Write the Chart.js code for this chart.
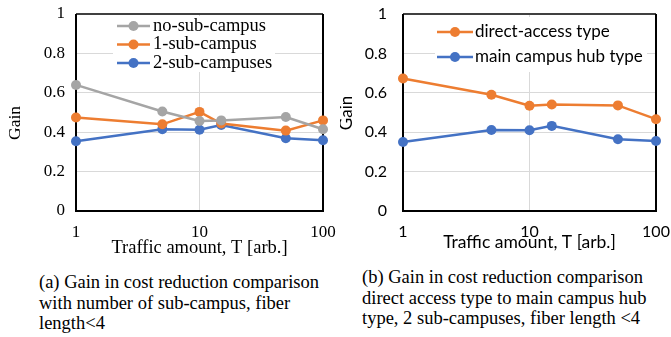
<!DOCTYPE html>
<html>
<head>
<meta charset="utf-8">
<script src="https://cdn.jsdelivr.net/npm/chart.js@4/dist/chart.umd.min.js"></script>
<style>
  body { margin: 0; background: #fff; width: 671px; height: 337px; position: relative; overflow: hidden; }
  .box { position: absolute; top: 0; height: 262px; }
  .cap { position: absolute; font-family: "Liberation Serif", "Times New Roman", serif; font-size: 18.5px; line-height: 20.5px; color: #000; white-space: nowrap; }
</style>
</head>
<body>
<div class="box" style="left:0;width:339px"><canvas id="chart-a"></canvas></div>
<div class="box" style="left:340px;width:331px"><canvas id="chart-b"></canvas></div>
<div class="cap" style="left:39px;top:272px">(a) Gain in cost reduction comparison<br>with number of sub-campus, fiber<br>length&lt;4</div>
<div class="cap" style="left:362px;top:267px">(b) Gain in cost reduction comparison<br>direct access type to main campus hub<br>type, 2 sub-campuses, fiber length &lt;4</div>
<script>
// traffic amount T (x, log scale)
const traffic = [1, 5, 10, 15, 50, 100];
const xTicks = [1, 10, 100];

// (a) gain by number of sub-campuses
const noSub = [0.64, 0.505, 0.457, 0.46, 0.477, 0.415];
const oneSub = [0.475, 0.44, 0.503, 0.444, 0.408, 0.46];
const twoSub = [0.354, 0.415, 0.412, 0.437, 0.369, 0.359];

// (b) direct access vs main campus hub, 2 sub-campuses
const directAccess = [0.673, 0.59, 0.534, 0.541, 0.536, 0.466];
const hubType = [0.35, 0.411, 0.41, 0.432, 0.364, 0.355];

const GRAY = '#a5a5a5';
const ORANGE = '#ed7d31';
const BLUE = '#4472c4';
const SERIF = '"Liberation Serif", "Times New Roman", serif';
const SANS = 'Lato, "Open Sans", sans-serif';

const pts = (vals) => traffic.map((t, i) => ({ x: t, y: vals[i] }));

function series(label, vals, color) {
  return {
    label,
    data: pts(vals),
    borderColor: color,
    backgroundColor: color,
    borderWidth: 2.5,
    pointRadius: 5,
    pointHoverRadius: 5,
    pointBorderWidth: 0,
    tension: 0,
    clip: false,
  };
}

// plot frame: dark top edge, black left/bottom/right
const frame = {
  id: 'frame',
  beforeDatasetsDraw(chart) {
    const { ctx, chartArea: a } = chart;
    ctx.save();
    ctx.lineWidth = 2;
    ctx.strokeStyle = '#404040';
    ctx.beginPath(); ctx.moveTo(a.left, a.top); ctx.lineTo(a.right, a.top); ctx.stroke();
    ctx.strokeStyle = '#000';
    ctx.beginPath();
    ctx.moveTo(a.right, a.top); ctx.lineTo(a.right, a.bottom);
    ctx.lineTo(a.left, a.bottom); ctx.lineTo(a.left, a.top);
    ctx.stroke();
    ctx.restore();
  },
};

// rotated y title, placed where the original has it
const yTitle = {
  id: 'yTitle',
  afterDraw(chart, args, o) {
    const ctx = chart.ctx;
    ctx.save();
    ctx.translate(o.x, o.y);
    ctx.rotate(-Math.PI / 2);
    ctx.font = o.font;
    ctx.fillStyle = '#000';
    ctx.textAlign = 'center';
    ctx.textBaseline = 'middle';
    ctx.fillText(o.text, 0, 0);
    ctx.restore();
  },
};

// legend sitting inside the plot, on a white box
const inlineLegend = {
  id: 'inlineLegend',
  afterDatasetsDraw(chart, args, o) {
    const ctx = chart.ctx;
    ctx.save();
    ctx.fillStyle = '#fff';
    ctx.fillRect(o.box[0], o.box[1], o.box[2], o.box[3]);
    ctx.font = o.font;
    ctx.textBaseline = 'middle';
    chart.data.datasets.forEach((ds, i) => {
      const y = o.y + i * o.gap;
      ctx.strokeStyle = ds.borderColor;
      ctx.lineWidth = 2.5;
      ctx.beginPath(); ctx.moveTo(o.x, y); ctx.lineTo(o.x + o.len, y); ctx.stroke();
      ctx.fillStyle = ds.backgroundColor;
      ctx.beginPath(); ctx.arc(o.x + o.len / 2, y, 5, 0, Math.PI * 2); ctx.fill();
      ctx.fillStyle = '#000';
      ctx.fillText(ds.label, o.x + o.len + o.textGap, y);
    });
    ctx.restore();
  },
};

function makeChart(id, datasets, f) {
  return new Chart(document.getElementById(id), {
    type: 'line',
    data: { datasets },
    plugins: [frame, inlineLegend, yTitle],
    options: {
      responsive: true,
      maintainAspectRatio: false,
      animation: false,
      events: [],
      layout: { autoPadding: false, padding: { top: 14, right: f.padRight, left: 0, bottom: 0 } },
      plugins: {
        legend: { display: false },
        tooltip: { enabled: false },
        inlineLegend: f.legend,
        yTitle: f.yTitle,
      },
      scales: {
        x: {
          type: 'logarithmic',
          min: 1,
          max: 100,
          afterBuildTicks: (s) => { s.ticks = xTicks.map((v) => ({ value: v })); },
          afterFit: (s) => { s.height = 51; s.paddingLeft = 0; s.paddingRight = 0; },
          ticks: {
            autoSkip: false,
            maxRotation: 0,
            padding: f.xTickPad,
            color: '#000',
            font: { family: f.family, size: f.tickSize },
            callback: (v) => String(v),
          },
          grid: { color: '#d9d9d9', lineWidth: 1, drawTicks: false },
          border: { display: false },
          title: {
            display: true,
            text: 'Traffic amount, T [arb.]',
            color: '#000',
            font: { family: f.family, size: f.titleSize, lineHeight: 1.2 },
            padding: { top: 0, bottom: f.xTitlePad },
          },
        },
        y: {
          min: 0,
          max: 1,
          afterFit: (s) => { s.width = f.yWidth; s.paddingTop = 0; s.paddingBottom = 0; },
          ticks: {
            stepSize: 0.2,
            padding: f.yTickPad,
            color: '#000',
            font: { family: f.family, size: f.tickSize },
            callback: (v) => String(+v.toFixed(1)),
          },
          grid: { color: '#d9d9d9', lineWidth: 1, drawTicks: false },
          border: { display: false },
        },
      },
    },
  });
}

makeChart('chart-a', [
  series('no-sub-campus', noSub, GRAY),
  series('1-sub-campus', oneSub, ORANGE),
  series('2-sub-campuses', twoSub, BLUE),
], {
  family: SERIF, tickSize: 17, titleSize: 18.5, padRight: 16,
  yWidth: 76, yTickPad: 11, xTickPad: 11, xTitlePad: 3,
  yTitle: { text: 'Gain', x: 15, y: 123, font: '17.5px ' + SERIF },
  legend: { x: 117, y: 26, gap: 18.5, len: 33, textGap: 3, font: '18.5px ' + SERIF, box: [113, 16, 162, 56] },
});

makeChart('chart-b', [
  series('direct-access type', directAccess, ORANGE),
  series('main campus hub type', hubType, BLUE),
], {
  family: SANS, tickSize: 16, titleSize: 17.5, padRight: 15,
  yWidth: 63, yTickPad: 16, xTickPad: 11, xTitlePad: 9.5,
  yTitle: { text: 'Gain', x: 7, y: 113, font: '17px ' + SANS },
  legend: { x: 97, y: 32, gap: 25, len: 36, textGap: 2, font: '17px ' + SANS, box: [95, 17, 212, 55] },
});
</script>
</body>
</html>
